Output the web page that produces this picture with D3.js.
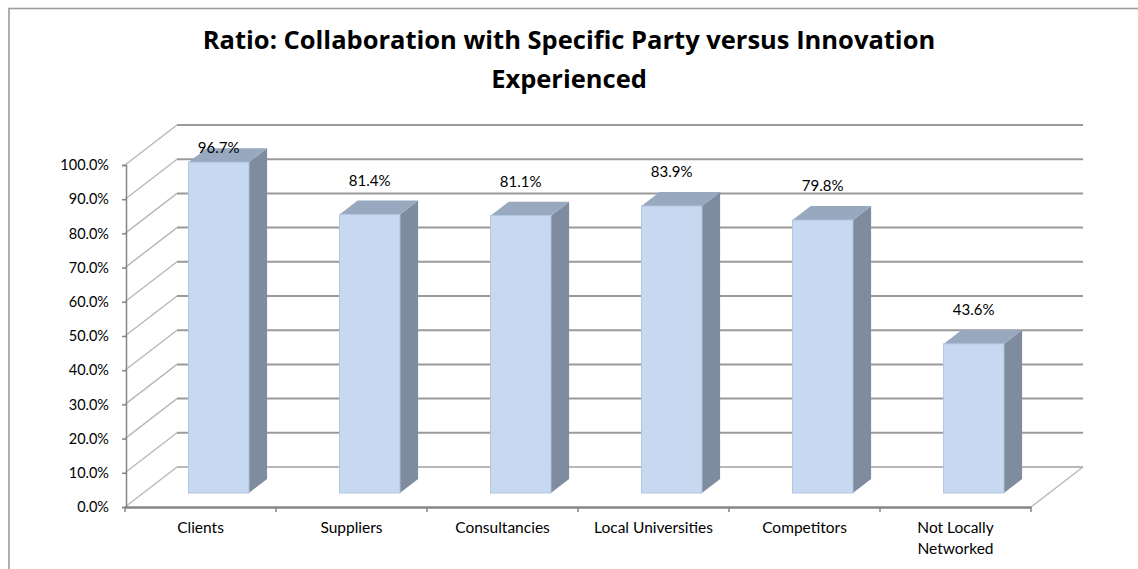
<!DOCTYPE html>
<html>
<head>
<meta charset="utf-8">
<script src="https://cdn.jsdelivr.net/npm/d3@7/dist/d3.min.js"></script>
<style>
  html, body { margin: 0; padding: 0; background: #ffffff; }
  svg { display: block; }
  text { font-family: Lato, "Open Sans", "DejaVu Sans", sans-serif; }
  text.title { font-family: "Open Sans", Lato, sans-serif; }
</style>
</head>
<body>
<svg id="chart" width="1138" height="569"></svg>
<script>
// ---- data ----
const categories = ["Clients", "Suppliers", "Consultancies", "Local Universities", "Competitors", "Not Locally\nNetworked"];
const values = [96.7, 81.4, 81.1, 83.9, 79.8, 43.6];
const yTickValues = [0, 10, 20, 30, 40, 50, 60, 70, 80, 90, 100];
const titleLines = ["Ratio: Collaboration with Specific Party versus Innovation", "Experienced"];

// ---- layout ----
const X0 = 125, X1 = 1031;      // front floor edge
const Y0 = 507, Y100 = 165;     // front axis
const DX = 52, DY = 40;         // full depth offset
const Z0 = 0.35, Z1 = 0.70;     // bar depth range
const svg = d3.select("#chart");

const x = d3.scaleBand().domain(categories).range([X0, X1]).paddingInner(0).paddingOuter(0);
const y = d3.scaleLinear().domain([0, 100]).range([Y0, Y100]);
const proj = (px, v, z) => [px + z * DX, y(v) - z * DY];
const pts = arr => arr.map(p => p.join(",")).join(" ");

// chart border
svg.append("rect").attr("x", 9).attr("y", 8.5).attr("width", 1300).attr("height", 700)
  .attr("fill", "#fff").attr("stroke", "#9c9c9c").attr("stroke-width", 1.6);

// title
svg.append("g").selectAll("text").data(titleLines).join("text")
  .attr("class", "title")
  .attr("x", 569).attr("y", (d, i) => 49 + i * 39)
  .attr("text-anchor", "middle").attr("font-size", 25.5).attr("font-weight", 700)
  .attr("fill", "#000").text(d => d);

// gridlines: left wall diagonals and back wall horizontals
const grid = svg.append("g");
grid.selectAll("line.diag").data(yTickValues).join("line").attr("class", "diag")
  .attr("x1", d => proj(X0, d, 0)[0]).attr("y1", d => proj(X0, d, 0)[1])
  .attr("x2", d => proj(X0, d, 1)[0]).attr("y2", d => proj(X0, d, 1)[1])
  .attr("stroke", "#b8b8b8").attr("stroke-width", 1.4);
grid.selectAll("line.back").data(yTickValues).join("line").attr("class", "back")
  .attr("x1", d => proj(X0, d, 1)[0]).attr("y1", d => proj(X0, d, 1)[1])
  .attr("x2", d => proj(X1, d, 1)[0]).attr("y2", d => proj(X1, d, 1)[1])
  .attr("stroke", d => d === 0 ? "#b8b8b8" : "#9a9a9a").attr("stroke-width", 2);

// floor right edge diagonal
svg.append("line")
  .attr("x1", proj(X1, 0, 0)[0]).attr("y1", proj(X1, 0, 0)[1])
  .attr("x2", proj(X1, 0, 1)[0]).attr("y2", proj(X1, 0, 1)[1])
  .attr("stroke", "#b8b8b8").attr("stroke-width", 1.4);

// y axis
const yAxis = d3.axisLeft(y).tickValues(yTickValues).tickSize(4).tickPadding(13)
  .tickFormat(d => d3.format(".1f")(d) + "%");
const ya = svg.append("g").attr("transform", `translate(${X0 + 1},0)`).call(yAxis);
ya.attr("font-family", null);
ya.select(".domain").attr("stroke", "#868686").attr("stroke-width", 1.5);
ya.selectAll(".tick line").attr("stroke", "#868686").attr("stroke-width", 1.5);
ya.selectAll(".tick text").attr("font-size", 14.5).attr("fill", "#000");

// x axis (front floor edge)
const xAxis = d3.axisBottom(x).tickSize(0).tickPadding(0).tickFormat("");
const xa = svg.append("g").attr("transform", `translate(0,${Y0})`).call(xAxis);
xa.select(".domain").attr("stroke", "#868686").attr("stroke-width", 2.5);
// category boundary ticks
const bounds = categories.map(c => x(c)).concat([X1]);
svg.append("g").selectAll("line").data(bounds).join("line")
  .attr("x1", d => d).attr("x2", d => d).attr("y1", Y0).attr("y2", Y0 + 5)
  .attr("stroke", "#868686").attr("stroke-width", 1.5);
// category labels
const cat = svg.append("g").selectAll("text").data(categories).join("text")
  .attr("x", d => x(d) + x.bandwidth() / 2).attr("y", 533)
  .attr("text-anchor", "middle").attr("font-size", 15.5).attr("fill", "#000");
cat.each(function (d) {
  const t = d3.select(this);
  d.split("\n").forEach((line, i) => {
    t.append("tspan").attr("x", x(d) + x.bandwidth() / 2).attr("dy", i === 0 ? 0 : 21).text(line);
  });
});

// bars
const bw = x.bandwidth();
const bars = svg.append("g").selectAll("g").data(categories).join("g");
bars.each(function (c, i) {
  const v = values[i];
  const g = d3.select(this);
  const xl = x(c) + bw * 0.3, xr = x(c) + bw * 0.7;
  // side
  g.append("polygon").attr("points", pts([proj(xr, 0, Z0), proj(xr, v, Z0), proj(xr, v, Z1), proj(xr, 0, Z1)]))
    .attr("fill", "#7f8c9f");
  // top
  g.append("polygon").attr("points", pts([proj(xl, v, Z0), proj(xr, v, Z0), proj(xr, v, Z1), proj(xl, v, Z1)]))
    .attr("fill", "#98a9bf");
  // front
  const fl = proj(xl, v, Z0), fr = proj(xr, 0, Z0);
  g.append("rect").attr("x", fl[0]).attr("y", fl[1]).attr("width", fr[0] - fl[0]).attr("height", fr[1] - fl[1])
    .attr("fill", "#c6d9f1").attr("stroke", "#b3c7e2").attr("stroke-width", 1);
});

// data labels
svg.append("g").selectAll("text").data(categories).join("text")
  .attr("x", (c) => x(c) + bw / 2 + Z0 * DX)
  .attr("y", (c, i) => Math.max(proj(0, values[i], Z1)[1] - 15, 153))
  .attr("text-anchor", "middle").attr("font-size", 15).attr("fill", "#000")
  .text((c, i) => d3.format(".1f")(values[i]) + "%");
</script>
</body>
</html>
